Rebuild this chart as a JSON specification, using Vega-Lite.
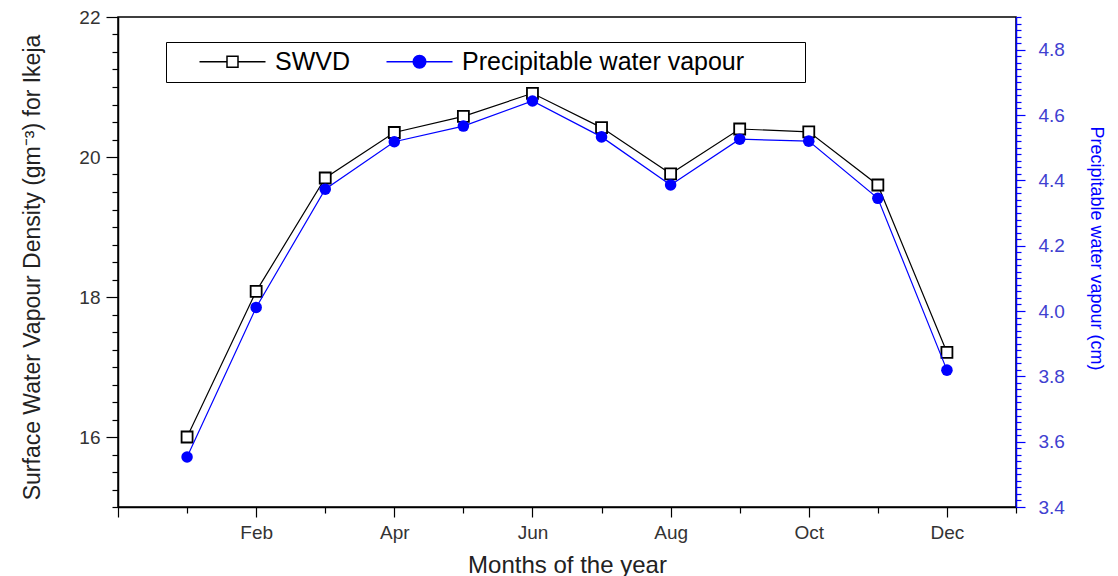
{
  "$schema": "https://vega.github.io/schema/vega-lite/v6.json",
  "autosize": "none",
  "width": 898,
  "height": 490,
  "padding": {"left": 118, "top": 17, "right": 102, "bottom": 69},
  "background": "white",
  "config": {
    "view": {"stroke": "black", "strokeWidth": 1.5},
    "axis": {"labelFont": "Liberation Sans", "titleFont": "Liberation Sans", "titleFontWeight": "normal", "grid": false, "domainWidth": 1.5, "tickWidth": 1.2}
  },
  "data": {"values": [
    {"month": 1, "swvd": 16.0, "pwv": 3.553},
    {"month": 2, "swvd": 18.08, "pwv": 4.011},
    {"month": 3, "swvd": 19.70, "pwv": 4.373},
    {"month": 4, "swvd": 20.35, "pwv": 4.518},
    {"month": 5, "swvd": 20.58, "pwv": 4.566},
    {"month": 6, "swvd": 20.91, "pwv": 4.643},
    {"month": 7, "swvd": 20.42, "pwv": 4.533},
    {"month": 8, "swvd": 19.76, "pwv": 4.386},
    {"month": 9, "swvd": 20.40, "pwv": 4.526},
    {"month": 10, "swvd": 20.36, "pwv": 4.520},
    {"month": 11, "swvd": 19.60, "pwv": 4.345},
    {"month": 12, "swvd": 17.21, "pwv": 3.819}
  ]},
  "encoding": {
    "x": {
      "field": "month", "type": "quantitative",
      "scale": {"domain": [0, 13], "nice": false, "zero": false},
      "axis": {
        "title": "Months of the year", "titleFontSize": 24, "titleColor": "#222", "titlePadding": 11,
        "values": [0,1,2,3,4,5,6,7,8,9,10,11,12,13],
        "labelExpr": "(datum.value % 2 === 0 && datum.value > 0) ? ['','Jan','Feb','Mar','Apr','May','Jun','Jul','Aug','Sep','Oct','Nov','Dec'][datum.value] : ''",
        "labelFontSize": 19, "labelColor": "#333", "labelPadding": 6,
        "domainColor": "black", "tickColor": "black",
        "tickSize": {"condition": {"test": "datum.value % 2 === 0", "value": 10}, "value": 6}
      }
    }
  },
  "layer": [
    {
      "encoding": {
        "y": {
          "field": "swvd", "type": "quantitative",
          "scale": {"domain": [15, 22], "nice": false, "zero": false},
          "axis": {
            "orient": "left",
            "title": "Surface Water Vapour Density (gm⁻³) for Ikeja", "titleFontSize": 23, "titleColor": "#222", "titlePadding": 34, "titleY": 250,
            "values": [15,15.25,15.5,15.75,16,16.25,16.5,16.75,17,17.25,17.5,17.75,18,18.25,18.5,18.75,19,19.25,19.5,19.75,20,20.25,20.5,20.75,21,21.25,21.5,21.75,22],
            "format": ".0f",
            "labelExpr": "datum.value % 2 === 0 ? datum.label : ''",
            "labelFontSize": 19, "labelColor": "#333", "labelPadding": 6,
            "domainColor": "black", "tickColor": "black",
            "tickSize": {"condition": {"test": "datum.value % 2 === 0", "value": 12}, "value": 6}
          }
        }
      },
      "layer": [
        {"mark": {"type": "line", "strokeWidth": 1.2}, "encoding": {"color": {"datum": "SWVD", "type": "nominal", "scale": {"domain": ["SWVD", "Precipitable water vapour"], "range": ["black", "blue"]}, "legend": {
          "orient": "none", "legendX": 48, "legendY": 25, "direction": "horizontal", "title": "\u00a0", "titleOrient": "right", "titlePadding": 54, "titleFontSize": 20,
          "strokeColor": "black", "padding": 7, "labelFontSize": 25, "labelFont": "Liberation Sans", "labelColor": "black", "labelLimit": 600,
          "symbolSize": 400, "symbolStrokeWidth": 1.5, "columnPadding": 10, "labelOffset": 30, "symbolOffset": 47,
          "encode": {"symbols": {"update": {
            "shape": {"signal": "datum.value === 'SWVD' ? 'M-3.3,0H-0.55M0.55,0H3.3M-0.55,-0.55H0.55V0.55H-0.55Z' : 'M-3.3,0H3.3M-0.63,0A0.63,0.63 0 1,0 0.63,0A0.63,0.63 0 1,0 -0.63,0Z'"},
            "fill": {"signal": "datum.value === 'SWVD' ? 'white' : 'blue'"}
          }}}
        }}}},
        {"mark": {"type": "point", "shape": "square", "filled": true, "fill": "white", "stroke": "black", "strokeWidth": 1.8, "size": 121, "opacity": 1}}
      ]
    },
    {
      "encoding": {
        "y": {
          "field": "pwv", "type": "quantitative",
          "scale": {"domain": [3.4, 4.9], "nice": false, "zero": false},
          "axis": {
            "orient": "right",
            "title": "Precipitable water vapour (cm)", "titleFontSize": 18, "titleColor": "blue", "titlePadding": 22, "titleY": 231,
            "values": [3.4,3.42,3.44,3.46,3.48,3.5,3.52,3.54,3.56,3.58,3.6,3.62,3.64,3.66,3.68,3.7,3.72,3.74,3.76,3.78,3.8,3.82,3.84,3.86,3.88,3.9,3.92,3.94,3.96,3.98,4.0,4.02,4.04,4.06,4.08,4.1,4.12,4.14,4.16,4.18,4.2,4.22,4.24,4.26,4.28,4.3,4.32,4.34,4.36,4.38,4.4,4.42,4.44,4.46,4.48,4.5,4.52,4.54,4.56,4.58,4.6,4.62,4.64,4.66,4.68,4.7,4.72,4.74,4.76,4.78,4.8,4.82,4.84,4.86,4.88,4.9],
            "format": ".1f",
            "labelExpr": "(abs(datum.value * 5 - round(datum.value * 5)) < 0.001 && datum.value < 4.85) ? datum.label : ''",
            "labelFontSize": 19, "labelColor": "#4040d0", "labelPadding": 13,
            "domainColor": "blue", "tickColor": "blue",
            "tickSize": {"condition": {"test": "abs(datum.value * 5 - round(datum.value * 5)) < 0.001", "value": 9}, "value": 5}
          }
        }
      },
      "layer": [
        {"mark": {"type": "line", "strokeWidth": 1.2}, "encoding": {"color": {"datum": "Precipitable water vapour", "type": "nominal"}}},
        {"mark": {"type": "point", "shape": "circle", "filled": true, "color": "blue", "size": 133, "opacity": 1}}
      ]
    }
  ],
  "resolve": {"scale": {"y": "independent"}}
}
